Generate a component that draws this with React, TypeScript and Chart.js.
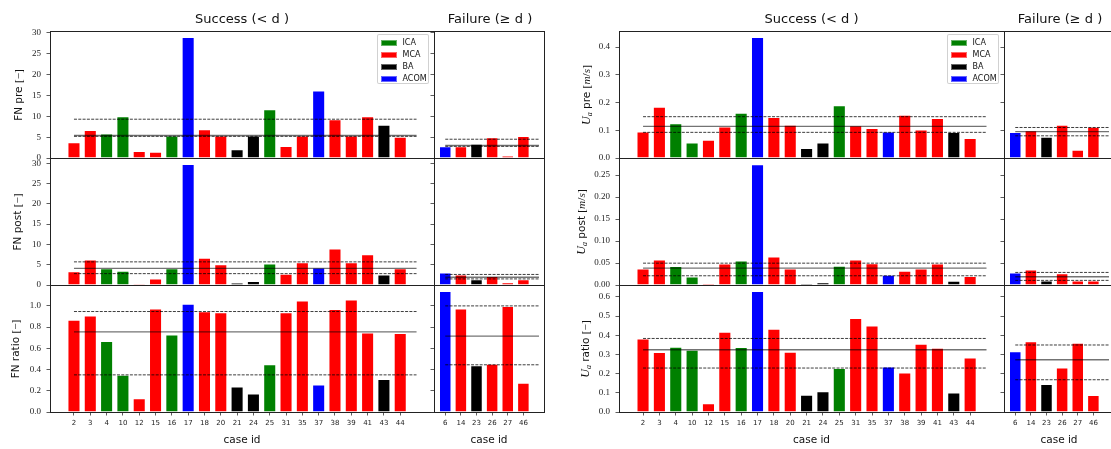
import React, { useEffect, useRef } from "react";
import { Chart, registerables } from "chart.js";

Chart.register(...registerables);

// ---------------- data ----------------
const successIds = ["2", "3", "4", "10", "12", "15", "16", "17", "18", "20", "21", "24", "25", "31", "35", "37", "38", "39", "41", "43", "44"];
const successGroups = ["MCA", "MCA", "ICA", "ICA", "MCA", "MCA", "ICA", "ACOM", "MCA", "MCA", "BA", "BA", "ICA", "MCA", "MCA", "ACOM", "MCA", "MCA", "MCA", "BA", "MCA"];
const failureIds = ["6", "14", "23", "26", "27", "46"];
const failureGroups = ["ACOM", "MCA", "BA", "MCA", "MCA", "MCA"];

const fnPreSuccess = [3.8, 6.7, 5.9, 10.0, 1.7, 1.5, 5.4, 29.0, 6.9, 5.4, 2.1, 5.4, 11.7, 2.9, 5.4, 16.2, 9.3, 5.4, 10.0, 8.0, 5.1];
const fnPreFailure = [2.8, 2.8, 3.4, 5.0, 0.6, 5.3];
const fnPostSuccess = [3.4, 6.3, 4.1, 3.5, 0.3, 1.6, 4.1, 29.8, 6.7, 5.1, 0.6, 1.0, 5.3, 2.8, 5.6, 4.3, 9.0, 5.6, 7.6, 2.6, 4.1];
const fnPostFailure = [3.1, 2.6, 1.4, 2.2, 0.65, 1.4];
const fnRatioSuccess = [0.87, 0.91, 0.67, 0.35, 0.13, 0.975, 0.73, 1.02, 0.95, 0.94, 0.24, 0.175, 0.45, 0.94, 1.05, 0.26, 0.97, 1.06, 0.75, 0.31, 0.745];
const fnRatioFailure = [1.14, 0.975, 0.44, 0.455, 1.0, 0.275];
const uaPreSuccess = [0.096, 0.185, 0.125, 0.056, 0.066, 0.114, 0.163, 0.436, 0.148, 0.12, 0.036, 0.056, 0.19, 0.118, 0.108, 0.096, 0.156, 0.103, 0.144, 0.094, 0.072];
const uaPreFailure = [0.094, 0.1, 0.077, 0.12, 0.03, 0.113];
const uaPostSuccess = [0.0377, 0.058, 0.043, 0.0196, 0.004, 0.049, 0.0557, 0.275, 0.065, 0.0377, 0.004, 0.006, 0.0437, 0.058, 0.0497, 0.0233, 0.0324, 0.0377, 0.049, 0.0098, 0.0203];
const uaPostFailure = [0.0286, 0.0354, 0.0105, 0.027, 0.0105, 0.0105];
const uaRatioSuccess = [0.383, 0.312, 0.34, 0.324, 0.045, 0.418, 0.338, 0.63, 0.433, 0.314, 0.09, 0.1075, 0.229, 0.49, 0.451, 0.2375, 0.206, 0.355, 0.335, 0.102, 0.284];
const uaRatioFailure = [0.316, 0.368, 0.146, 0.232, 0.361, 0.088];

// reference lines: [lower quartile, median, upper quartile]
const fnPreRefSuccess = [5.2, 5.4, 9.3];
const fnPreRefFailure = [2.8, 3.0, 4.5];
const fnPostRefSuccess = [2.8, 4.1, 5.7];
const fnPostRefFailure = [1.5, 1.9, 2.6];
const fnRatioRefSuccess = [0.35, 0.755, 0.947];
const fnRatioRefFailure = [0.445, 0.715, 1.0];
const uaPreRefSuccess = [0.0925, 0.114, 0.149];
const uaPreRefFailure = [0.08, 0.095, 0.11];
const uaPostRefSuccess = [0.021, 0.0384, 0.0497];
const uaPostRefFailure = [0.0105, 0.0188, 0.0286];
const uaRatioRefSuccess = [0.229, 0.324, 0.383];
const uaRatioRefFailure = [0.168, 0.272, 0.349];

const fnPreTicks = ["0", "5", "10", "15", "20", "25", "30"];
const fnPostTicks = ["0", "5", "10", "15", "20", "25", "30"];
const fnRatioTicks = ["0.0", "0.2", "0.4", "0.6", "0.8", "1.0"];
const uaPreTicks = ["0.0", "0.1", "0.2", "0.3", "0.4"];
const uaPostTicks = ["0.00", "0.05", "0.10", "0.15", "0.20", "0.25"];
const uaRatioTicks = ["0.0", "0.1", "0.2", "0.3", "0.4", "0.5", "0.6"];

const fnPreMax = 30.45;
const fnPostMax = 31.3;
const fnRatioMax = 1.197;
const uaPreMax = 0.458;
const uaPostMax = 0.289;
const uaRatioMax = 0.6615;

const legendLabels = ["ICA", "MCA", "BA", "ACOM"];
const groupColors: Record<string, string> = { ICA: "#008000", MCA: "#ff0000", BA: "#000000", ACOM: "#0000ff" };

// ---------------- layout ----------------
const SERIF = "'Liberation Serif', 'DejaVu Serif', serif";
const SANS = "'DejaVu Sans', sans-serif";
const ROW_TOPS = [31, 158, 285];
const ROW_H = 127;
const GROUPS_X = [
  { s: 50, sw: 384, f: 434, fw: 110 },
  { s: 619, sw: 385, f: 1004, fw: 110 },
];

const framePlugin = {
  id: "frame",
  afterDraw(chart: any) {
    const { ctx, chartArea } = chart;
    const { left, top, right, bottom } = chartArea;
    ctx.save();
    ctx.strokeStyle = "#222";
    ctx.lineWidth = 1;
    ctx.strokeRect(left + 0.5, top + 0.5, right - left, bottom - top);
    ctx.restore();
  },
};

type PanelProps = {
  left: number;
  top: number;
  width: number;
  height: number;
  ids: string[];
  groups: string[];
  values: number[];
  refs: number[];
  yMax: number;
  yTicks: string[];
  showYLabels: boolean;
  showX: boolean;
};

function Panel(p: PanelProps) {
  const ref = useRef<HTMLCanvasElement | null>(null);
  const L = p.showYLabels ? 46 : 6;
  const T = 6;
  const R = 3;
  const B = p.showX ? 24 : 3;
  const cw = p.width + L + R;
  const ch = p.height + T + B;
  const n = p.ids.length;
  const xMin = -0.4 - 0.05 * (n + 0.4);
  const xMax = n + 0.05 * (n + 0.4);

  useEffect(() => {
    const [lo, med, hi] = p.refs;
    const mkLine = (v: number, dashed: boolean) => ({
      type: "line" as const,
      data: [
        { x: 0, y: v },
        { x: n, y: v },
      ],
      borderColor: dashed ? "rgba(0,0,0,0.85)" : "rgba(0,0,0,0.55)",
      borderWidth: dashed ? 0.9 : 1.4,
      borderDash: dashed ? [3, 1.3] : [],
      pointRadius: 0,
      fill: false,
      order: 0,
    });
    const chart = new Chart(ref.current as HTMLCanvasElement, {
      type: "bar",
      data: {
        datasets: [
          mkLine(hi, true),
          mkLine(med, false),
          mkLine(lo, true),
          {
            type: "bar",
            data: p.values.map((v, i) => ({ x: i, y: v })),
            backgroundColor: p.groups.map((g) => groupColors[g]),
            borderColor: "rgba(255,255,255,0.35)",
            borderWidth: 1,
            borderSkipped: "start",
            barPercentage: 0.8,
            categoryPercentage: 1,
            order: 1,
          } as any,
        ],
      },
      options: {
        animation: false,
        responsive: false,
        maintainAspectRatio: false,
        devicePixelRatio: 1,
        events: [],
        layout: {
          padding: { left: 0, top: T, right: R, bottom: p.showX ? 0 : B },
          autoPadding: false,
        } as any,
        plugins: { legend: { display: false }, tooltip: { enabled: false } },
        scales: {
          x: {
            type: "linear",
            min: xMin,
            max: xMax,
            offset: false,
            display: p.showX,
            afterBuildTicks: (s: any) => {
              s.ticks = p.ids.map((_, i) => ({ value: i }));
            },
            afterFit: (s: any) => {
              s.height = p.showX ? B : 0;
              s.paddingLeft = 0;
              s.paddingRight = 0;
            },
            ticks: {
              autoSkip: false,
              maxRotation: 0,
              minRotation: 0,
              padding: 3,
              color: "#222",
              font: { family: SANS, size: 7 },
              callback: (_v: any, i: number) => p.ids[i],
            },
            grid: { display: true, offset: false, drawOnChartArea: false, drawTicks: true, tickLength: 3.5, color: "#333", lineWidth: 0.8 },
            border: { display: false },
          } as any,
          y: {
            type: "linear",
            min: 0,
            max: p.yMax,
            afterBuildTicks: (s: any) => {
              s.ticks = p.yTicks.map((t) => ({ value: parseFloat(t) }));
            },
            afterFit: (s: any) => {
              s.width = L;
              s.paddingTop = 0;
              s.paddingBottom = 0;
            },
            ticks: {
              display: p.showYLabels,
              padding: 5.5,
              color: "#222",
              font: { family: SERIF, size: 9 },
              callback: (_v: any, i: number) => p.yTicks[i],
            },
            grid: { display: true, drawOnChartArea: false, drawTicks: true, tickLength: 3.5, color: "#333", lineWidth: 0.8 },
            border: { display: false },
          } as any,
        },
      },
      plugins: [framePlugin],
    } as any);
    return () => chart.destroy();
  }, []);

  return (
    <canvas
      ref={ref}
      width={cw}
      height={ch}
      style={{ position: "absolute", left: p.left - L, top: p.top - T, width: cw, height: ch }}
    />
  );
}

function Text(props: { x: number; y: number; size: number; rotate?: boolean; children: any }) {
  return (
    <div
      style={{
        position: "absolute",
        left: props.x,
        top: props.y,
        transform: `translate(-50%, -50%)${props.rotate ? " rotate(-90deg)" : ""}`,
        whiteSpace: "nowrap",
        fontFamily: SANS,
        fontSize: props.size,
        lineHeight: 1,
        color: "#111",
      }}
    >
      {props.children}
    </div>
  );
}

function Legend(props: { x: number; y: number }) {
  return (
    <div
      style={{
        position: "absolute",
        left: props.x,
        top: props.y,
        width: 52,
        height: 50,
        border: "1px solid rgba(204,204,204,0.9)",
        borderRadius: 2,
        background: "rgba(255,255,255,0.85)",
        boxSizing: "border-box",
      }}
    >
      {legendLabels.map((lab, i) => (
        <div key={lab} style={{ position: "absolute", left: 3, top: 4.5 + i * 11.9, height: 7, display: "flex", alignItems: "center" }}>
          <div style={{ width: 16.5, height: 6, background: groupColors[lab], boxSizing: "border-box", border: "0.5px solid rgba(255,255,255,0.4)" }} />
          <div style={{ marginLeft: 5.5, fontFamily: SANS, fontSize: 8, lineHeight: 1, color: "#111" }}>{lab}</div>
        </div>
      ))}
    </div>
  );
}

const bracketMinus = <span style={{ fontFamily: SERIF, fontSize: "1.08em" }}>[−]</span>;
const bracketMS = (
  <span style={{ fontFamily: SERIF, fontSize: "1.08em" }}>
    [<i>m</i>/<i>s</i>]
  </span>
);
const Ua = (
  <span style={{ fontFamily: SERIF }}>
    <i style={{ fontSize: "1.15em" }}>U</i>
    <i style={{ fontSize: "0.75em", position: "relative", top: "0.25em" }}>a</i>
  </span>
);

export default function App() {
  const leftRows = [
    { s: fnPreSuccess, f: fnPreFailure, rs: fnPreRefSuccess, rf: fnPreRefFailure, max: fnPreMax, ticks: fnPreTicks },
    { s: fnPostSuccess, f: fnPostFailure, rs: fnPostRefSuccess, rf: fnPostRefFailure, max: fnPostMax, ticks: fnPostTicks },
    { s: fnRatioSuccess, f: fnRatioFailure, rs: fnRatioRefSuccess, rf: fnRatioRefFailure, max: fnRatioMax, ticks: fnRatioTicks },
  ];
  const rightRows = [
    { s: uaPreSuccess, f: uaPreFailure, rs: uaPreRefSuccess, rf: uaPreRefFailure, max: uaPreMax, ticks: uaPreTicks },
    { s: uaPostSuccess, f: uaPostFailure, rs: uaPostRefSuccess, rf: uaPostRefFailure, max: uaPostMax, ticks: uaPostTicks },
    { s: uaRatioSuccess, f: uaRatioFailure, rs: uaRatioRefSuccess, rf: uaRatioRefFailure, max: uaRatioMax, ticks: uaRatioTicks },
  ];
  const groupsRows = [leftRows, rightRows];

  const yLabels = [
    [
      { x: 18.5, y: 94.5, c: <>FN pre {bracketMinus}</> },
      { x: 18, y: 221.5, c: <>FN post {bracketMinus}</> },
      { x: 15.5, y: 348.5, c: <>FN ratio {bracketMinus}</> },
    ],
    [
      { x: 586, y: 94.5, c: <>{Ua} pre {bracketMS}</> },
      { x: 581, y: 221.5, c: <>{Ua} post {bracketMS}</> },
      { x: 584.5, y: 348.5, c: <>{Ua} ratio {bracketMinus}</> },
    ],
  ];

  return (
    <div style={{ position: "absolute", left: 0, top: 0, width: 1111, height: 449, overflow: "hidden", background: "#fff" }}>
      {GROUPS_X.map((gx, gi) =>
        groupsRows[gi].map((row, ri) => (
          <React.Fragment key={`${gi}-${ri}`}>
            <Panel
              left={gx.s}
              top={ROW_TOPS[ri]}
              width={gx.sw}
              height={ROW_H}
              ids={successIds}
              groups={successGroups}
              values={row.s}
              refs={row.rs}
              yMax={row.max}
              yTicks={row.ticks}
              showYLabels={true}
              showX={ri === 2}
            />
            <Panel
              left={gx.f}
              top={ROW_TOPS[ri]}
              width={gx.fw}
              height={ROW_H}
              ids={failureIds}
              groups={failureGroups}
              values={row.f}
              refs={row.rf}
              yMax={row.max}
              yTicks={row.ticks}
              showYLabels={false}
              showX={ri === 2}
            />
          </React.Fragment>
        ))
      )}
      {GROUPS_X.map((gx, gi) => (
        <React.Fragment key={`t-${gi}`}>
          <Text x={gx.s + gx.sw / 2} y={17.5} size={13}>Success (&lt; d )</Text>
          <Text x={gx.f + gx.fw / 2 + 1} y={17.5} size={13}>Failure (≥ d )</Text>
          <Text x={gx.s + gx.sw / 2} y={439} size={10.5}>case id</Text>
          <Text x={gx.f + gx.fw / 2} y={439} size={10.5}>case id</Text>
          {yLabels[gi].map((yl, i) => (
            <Text key={i} x={yl.x} y={yl.y} size={10.5} rotate>
              {yl.c}
            </Text>
          ))}
        </React.Fragment>
      ))}
      <Legend x={376.5} y={34} />
      <Legend x={946.5} y={34} />
    </div>
  );
}
